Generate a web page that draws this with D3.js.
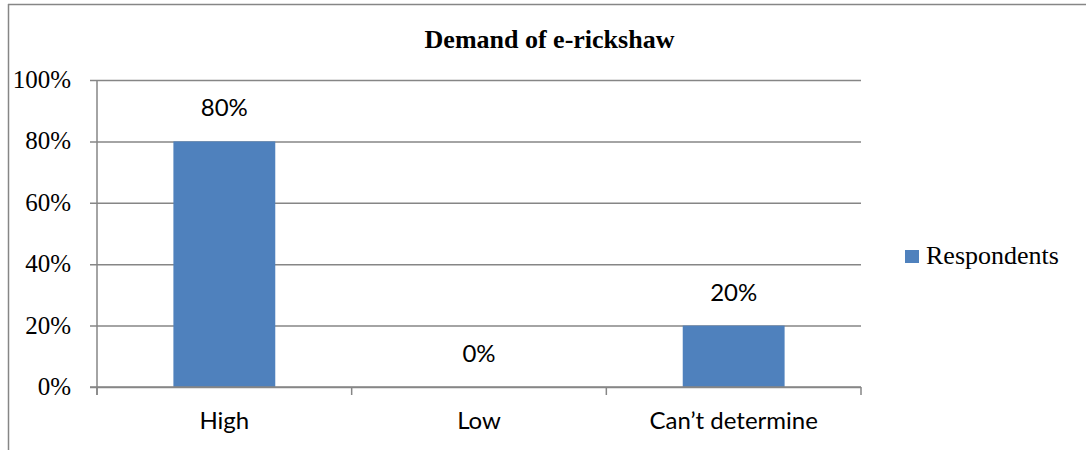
<!DOCTYPE html>
<html>
<head>
<meta charset="utf-8">
<script src="https://cdn.jsdelivr.net/npm/d3@7"></script>
<style>
  html, body { margin: 0; padding: 0; background: #fff; }
  svg { display: block; }
</style>
</head>
<body>
<svg id="chart" width="1086" height="450"></svg>
<script>
// Survey answers on e-rickshaw demand
const categories = ["High", "Low", "Can\u2019t determine"];
const respondents = [0.80, 0.00, 0.20];
const yTicks = [0, 0.2, 0.4, 0.6, 0.8, 1.0];
const seriesName = "Respondents";
const title = "Demand of e-rickshaw";

const W = 1086, H = 450;
const plot = { left: 97, right: 861, top: 80, bottom: 387 };
const barColor = "#4F81BD";
const axisColor = "#868686";
const serif = "'Liberation Serif', 'Times New Roman', serif";
const sans = "Lato, 'Open Sans', 'Noto Sans', sans-serif";

const svg = d3.select("#chart");

// Outer chart frame (top and left edges visible)
svg.append("line").attr("x1", 8).attr("x2", W).attr("y1", 4.5).attr("y2", 4.5)
  .attr("stroke", axisColor).attr("stroke-width", 1.5);
svg.append("line").attr("x1", 8.5).attr("x2", 8.5).attr("y1", 4).attr("y2", H)
  .attr("stroke", axisColor).attr("stroke-width", 1.5);

const x = d3.scaleBand().domain(categories).range([plot.left, plot.right])
  .paddingInner(0.6).paddingOuter(0.3);
const xOuter = d3.scaleBand().domain(categories).range([plot.left, plot.right]);
const y = d3.scaleLinear().domain([0, 1]).range([plot.bottom, plot.top]);

// Horizontal gridlines with small ticks left of the axis
const yAxis = d3.axisLeft(y).tickValues(yTicks)
  .tickSize(-(plot.right - plot.left))
  .tickFormat("");
const gy = svg.append("g").attr("transform", `translate(${plot.left},0)`).call(yAxis);
gy.select(".domain").remove();
gy.selectAll(".tick line").attr("stroke", axisColor).attr("stroke-width", 1.5).attr("x2", plot.right - plot.left).attr("x1", -7);

// Y tick labels
svg.append("g").selectAll("text").data(yTicks).join("text")
  .attr("x", 71).attr("y", d => y(d) + 8)
  .attr("text-anchor", "end")
  .attr("font-family", serif).attr("font-size", 25).attr("fill", "#000")
  .text(d => d3.format(".0%")(d));

// Vertical axis line
svg.append("line").attr("x1", plot.left).attr("x2", plot.left)
  .attr("y1", plot.top).attr("y2", plot.bottom + 8)
  .attr("stroke", axisColor).attr("stroke-width", 1.5);

// Bars
svg.append("g").selectAll("rect").data(categories).join("rect")
  .attr("x", d => x(d)).attr("width", x.bandwidth())
  .attr("y", (d, i) => y(respondents[i]))
  .attr("height", (d, i) => y(0) - y(respondents[i]))
  .attr("fill", barColor);

// Horizontal axis with category separators
const xAxis = d3.axisBottom(xOuter).tickSize(0).tickFormat("");
const gx = svg.append("g").attr("transform", `translate(0,${plot.bottom})`).call(xAxis);
gx.select(".domain").remove();
svg.append("line").attr("x1", plot.left - 7).attr("x2", plot.right)
  .attr("y1", plot.bottom).attr("y2", plot.bottom)
  .attr("stroke", axisColor).attr("stroke-width", 1.5);
const bounds = categories.map(c => xOuter(c)).concat([plot.right]);
svg.append("g").selectAll("line").data(bounds).join("line")
  .attr("x1", d => d).attr("x2", d => d)
  .attr("y1", plot.bottom).attr("y2", plot.bottom + 8)
  .attr("stroke", axisColor).attr("stroke-width", 1.5);

// Category labels
svg.append("g").selectAll("text").data(categories).join("text")
  .attr("x", d => xOuter(d) + xOuter.bandwidth() / 2).attr("y", 429)
  .attr("text-anchor", "middle")
  .attr("font-family", sans).attr("font-size", 24).attr("fill", "#000")
  .text(d => d);

// Value labels above bars
svg.append("g").selectAll("text").data(categories).join("text")
  .attr("x", d => x(d) + x.bandwidth() / 2)
  .attr("y", (d, i) => y(respondents[i]) - 25)
  .attr("text-anchor", "middle")
  .attr("font-family", sans).attr("font-size", 24).attr("fill", "#000")
  .text((d, i) => d3.format(".0%")(respondents[i]));

// Title
svg.append("text").attr("x", 549.5).attr("y", 48)
  .attr("text-anchor", "middle")
  .attr("font-family", serif).attr("font-weight", "bold").attr("font-size", 26)
  .text(title);

// Legend
const lg = svg.append("g");
lg.append("rect").attr("x", 905).attr("y", 250).attr("width", 14).attr("height", 13).attr("fill", barColor);
lg.append("text").attr("x", 926).attr("y", 264)
  .attr("font-family", serif).attr("font-size", 26).attr("fill", "#000")
  .text(seriesName);
</script>
</body>
</html>
